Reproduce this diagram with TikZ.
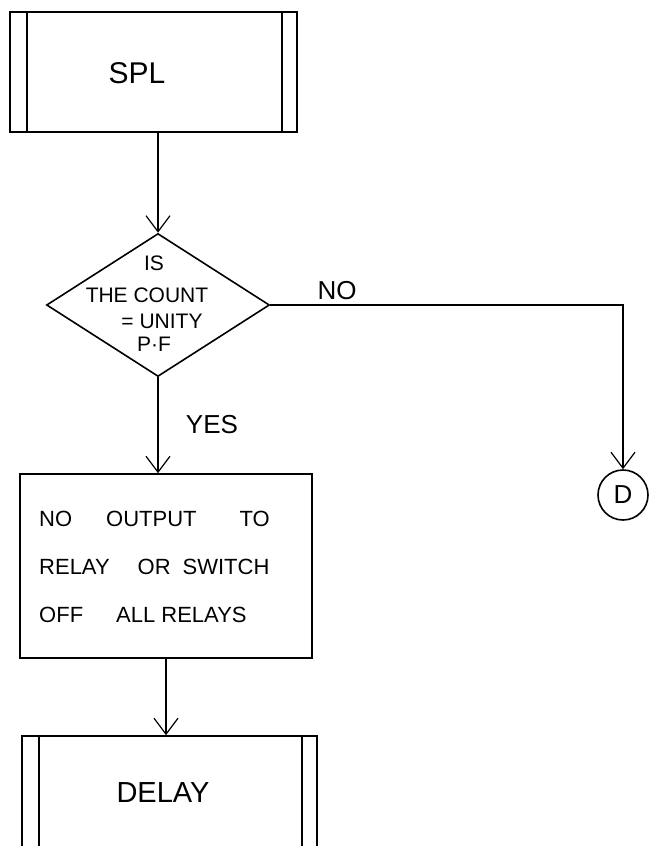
\documentclass[tikz,border=0pt]{standalone}
\usepackage{fontspec}
\setmainfont{Liberation Sans}
\usetikzlibrary{shapes.geometric,arrows.meta}

\begin{document}
\begin{tikzpicture}[x=1pt,y=-1pt,
  boxline/.style={draw, line width=1.6pt, inner sep=0pt},
  subproc/.style={boxline, rectangle,
    path picture={
      \draw[line width=1.6pt] ([xshift=17pt]path picture bounding box.north west)
        -- ([xshift=17pt]path picture bounding box.south west);
      \draw[line width=1.6pt] ([xshift=-15pt]path picture bounding box.north east)
        -- ([xshift=-15pt]path picture bounding box.south east);
    }},
  flow/.style={line width=1.2pt, -{Straight Barb[length=16pt,width=24pt,line width=1.2pt]}},
  lbl/.style={inner sep=0pt, font=\fontsize{#1}{#1}\selectfont},
]
% page frame
\path[use as bounding box, clip] (0,0) rectangle (649,846);

% predefined process: SPL
\node[subproc, minimum width=287pt, minimum height=120pt] (spl) at (153.5,72) {};
\node[lbl=30] (spltext) at (137,73) {SPL};

% decision
\node[boxline, diamond, minimum width=223pt, minimum height=143pt] (dia) at (158,305) {};
\node[font=\fontsize{21}{26}\selectfont, align=center, inner sep=0pt] (qtext) at (154,304)
  {IS\\[6pt]\hspace*{-14pt}THE COUNT\\\hspace*{16pt}= UNITY\\[-3pt]P·F};

% action box
\node[boxline, rectangle, minimum width=292pt, minimum height=184pt] (act) at (166,566) {};
\node[font=\fontsize{22}{48}\selectfont, align=left, anchor=west, inner sep=0pt] (acttext) at (39,567)
  {NO\hspace{34pt}OUTPUT\hspace{43pt}TO\\
   RELAY\hspace{28pt}OR\hspace{12pt}SWITCH\\
   OFF\hspace{33pt}ALL RELAYS};

% predefined process: DELAY (runs off the page bottom)
\node[subproc, minimum width=295pt, minimum height=150pt] (delay) at (169.5,811) {};
\node[lbl=29] (delaytext) at (163,793) {DELAY};

% off-page connector
\node[boxline, circle, minimum size=50pt, font=\fontsize{26}{30}\selectfont] (conD) at (623,495) {D};

% branch labels
\node[lbl=26] (yes) at (212,425) {YES};
\node[lbl=26] (no) at (337,291) {NO};

% connectors
\draw[flow] (dia.north |- spl.south) -- (dia.north);
\draw[flow] (dia.south) -- (dia.south |- act.north);
\draw[flow] (dia.east) -| (conD.north);
\draw[flow] (act.south) -- (act.south |- delay.north);
\end{tikzpicture}
\end{document}
